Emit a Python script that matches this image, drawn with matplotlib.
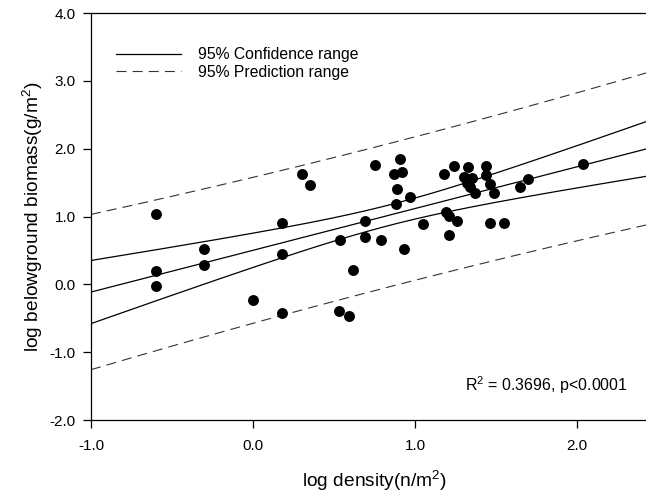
import numpy as np
import matplotlib
matplotlib.use('Agg')
import matplotlib.pyplot as plt
from matplotlib.lines import Line2D

plt.rcParams['font.family'] = ['Liberation Sans', 'DejaVu Sans']

# log density (n/m2) and log belowground biomass (g/m2)
log_density = [-0.60, -0.60, -0.60, -0.30, -0.30, 0.00, 0.18, 0.18, 0.18, 0.30,
               0.35, 0.53, 0.54, 0.59, 0.62, 0.69, 0.69, 0.75, 0.79, 0.87,
               0.88, 0.89, 0.91, 0.92, 0.93, 0.97, 1.05, 1.18, 1.19, 1.21,
               1.21, 1.24, 1.26, 1.30, 1.32, 1.33, 1.34, 1.35, 1.37, 1.44,
               1.44, 1.46, 1.46, 1.49, 1.55, 1.65, 1.70, 2.04]
log_biomass = [1.03, 0.20, -0.03, 0.52, 0.28, -0.23, 0.90, 0.45, -0.42, 1.62,
               1.46, -0.39, 0.65, -0.47, 0.21, 0.94, 0.70, 1.76, 0.65, 1.63,
               1.19, 1.40, 1.85, 1.66, 0.52, 1.29, 0.89, 1.63, 1.07, 1.01,
               0.72, 1.75, 0.93, 1.58, 1.50, 1.73, 1.44, 1.57, 1.34, 1.74,
               1.61, 1.48, 0.91, 1.35, 0.90, 1.44, 1.55, 1.77]

x_ticks = [-1.0, 0.0, 1.0, 2.0]
y_ticks = [-2.0, -1.0, 0.0, 1.0, 2.0, 3.0, 4.0]
stats_text = 'R$\\mathregular{^2}$ = 0.3696, p<0.0001'
T_CRIT = 2.013  # t(0.975, n-2)

x = np.array(log_density)
y = np.array(log_biomass)
n = len(x)

# linear fit and 95% bands
slope, intercept = np.polyfit(x, y, 1)
resid = y - (intercept + slope * x)
s = np.sqrt(np.sum(resid ** 2) / (n - 2))
sxx = np.sum((x - x.mean()) ** 2)

xs = np.linspace(-1.0, 2.5, 200)
fit = intercept + slope * xs
ci = T_CRIT * s * np.sqrt(1.0 / n + (xs - x.mean()) ** 2 / sxx)
pi = T_CRIT * s * np.sqrt(1.0 + 1.0 / n + (xs - x.mean()) ** 2 / sxx)

fig = plt.figure(figsize=(6.46, 4.95), dpi=100)
ax = fig.add_axes([91 / 646, 1 - 420 / 495, 567 / 646, 407 / 495])

ax.plot(xs, fit, color='black', lw=0.9)
ax.plot(xs, fit + ci, color='black', lw=0.9)
ax.plot(xs, fit - ci, color='black', lw=0.9)
ax.plot(xs, fit + pi, color='#333333', lw=0.8, dashes=(9, 5.5))
ax.plot(xs, fit - pi, color='#333333', lw=0.8, dashes=(9, 5.5))
ax.scatter(x, y, s=62, color='black', zorder=3, linewidths=0)

ax.set_xlim(-1.0, 2.5)
ax.set_ylim(-2.0, 4.0)
ax.set_xticks(x_ticks)
ax.set_yticks(y_ticks)
ax.set_xticklabels([f'{t:.1f}' for t in x_ticks])
ax.set_yticklabels([f'{t:.1f}' for t in y_ticks])
ax.tick_params(direction='out', length=6, width=0.9, labelsize=11)
ax.tick_params(axis='x', pad=8)
ax.tick_params(axis='y', pad=5)
for side in ['left', 'bottom', 'top']:
    ax.spines[side].set_linewidth(0.9)

ax.set_xlabel('log density(n/m$\\mathregular{^2}$)', fontsize=13.8, labelpad=11)
ax.set_ylabel('log belowground biomass(g/m$\\mathregular{^2}$)', fontsize=13.8, labelpad=3)

handles = [Line2D([], [], color='black', lw=0.9),
           Line2D([], [], color='#333333', lw=0.8, dashes=(9, 5.5))]
ax.legend(handles, ['95% Confidence range', '95% Prediction range'],
          loc='upper left', bbox_to_anchor=(0.031, 0.935), frameon=False,
          fontsize=11.3, handlelength=4.1, handletextpad=1.1,
          labelspacing=0.15, borderpad=0)

ax.text(1.31, -1.49, stats_text, fontsize=11.5, va='center', ha='left')

fig.savefig('out.png', dpi=100)
